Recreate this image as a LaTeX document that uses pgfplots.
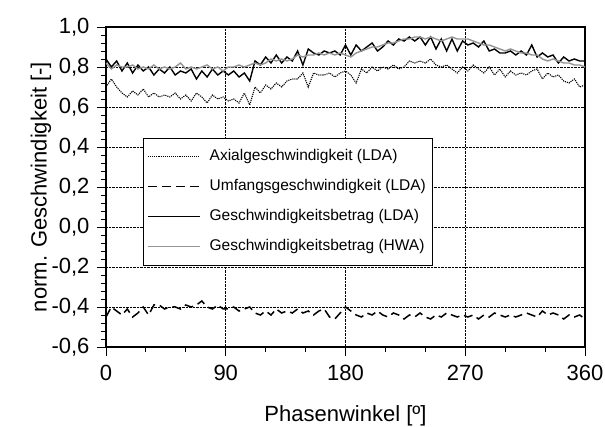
\documentclass[border=0pt]{standalone}
\usepackage{fontspec}
\setmainfont{Liberation Sans}
\usepackage{pgfplots}
\pgfplotsset{compat=1.18}
\usetikzlibrary{calc}

\pgfplotstableread{
x ax um lda hwa
0 0.70 -0.45 0.84 0.82
4 0.74 -0.40 0.80 0.79
8 0.70 -0.42 0.83 0.81
12 0.67 -0.44 0.78 0.80
16 0.65 -0.41 0.82 0.80
20 0.68 -0.45 0.77 0.81
24 0.66 -0.43 0.81 0.79
28 0.69 -0.40 0.78 0.80
32 0.65 -0.44 0.80 0.79
36 0.67 -0.39 0.76 0.81
40 0.65 -0.39 0.79 0.79
44 0.66 -0.41 0.77 0.80
48 0.65 -0.40 0.80 0.79
52 0.67 -0.40 0.76 0.80
56 0.64 -0.41 0.78 0.82
60 0.66 -0.39 0.77 0.79
64 0.63 -0.40 0.79 0.80
68 0.67 -0.39 0.74 0.79
72 0.65 -0.37 0.78 0.80
76 0.62 -0.40 0.75 0.81
80 0.66 -0.41 0.79 0.79
84 0.64 -0.39 0.76 0.80
88 0.65 -0.41 0.78 0.78
92 0.63 -0.41 0.76 0.80
96 0.64 -0.40 0.78 0.80
100 0.62 -0.42 0.75 0.81
104 0.67 -0.41 0.77 0.80
108 0.61 -0.40 0.73 0.81
112 0.70 -0.43 0.83 0.82
116 0.67 -0.44 0.81 0.81
120 0.71 -0.42 0.85 0.82
124 0.69 -0.44 0.82 0.84
128 0.72 -0.41 0.86 0.83
132 0.70 -0.43 0.82 0.84
136 0.73 -0.42 0.85 0.83
140 0.74 -0.43 0.83 0.84
144 0.74 -0.41 0.88 0.86
148 0.77 -0.43 0.81 0.85
152 0.70 -0.42 0.89 0.86
156 0.77 -0.44 0.87 0.86
160 0.76 -0.42 0.86 0.87
164 0.76 -0.41 0.88 0.86
168 0.77 -0.45 0.87 0.87
172 0.75 -0.46 0.88 0.86
176 0.77 -0.43 0.86 0.87
180 0.78 -0.40 0.91 0.86
184 0.76 -0.42 0.86 0.85
188 0.72 -0.44 0.91 0.87
192 0.79 -0.45 0.88 0.88
196 0.77 -0.43 0.90 0.89
200 0.80 -0.44 0.92 0.90
204 0.78 -0.42 0.88 0.90
208 0.80 -0.44 0.90 0.91
212 0.79 -0.45 0.93 0.92
216 0.81 -0.43 0.91 0.92
220 0.79 -0.44 0.94 0.93
224 0.80 -0.46 0.93 0.94
228 0.83 -0.44 0.95 0.94
232 0.82 -0.45 0.93 0.95
236 0.83 -0.43 0.95 0.95
240 0.82 -0.45 0.91 0.94
244 0.84 -0.46 0.95 0.95
248 0.81 -0.44 0.89 0.94
252 0.80 -0.45 0.94 0.93
256 0.81 -0.43 0.88 0.94
260 0.79 -0.44 0.94 0.95
264 0.77 -0.45 0.88 0.94
268 0.80 -0.44 0.93 0.94
272 0.78 -0.45 0.91 0.94
276 0.81 -0.44 0.92 0.93
280 0.79 -0.46 0.90 0.92
284 0.77 -0.44 0.93 0.91
288 0.80 -0.45 0.88 0.91
292 0.76 -0.43 0.89 0.90
296 0.79 -0.44 0.87 0.89
300 0.75 -0.45 0.87 0.88
304 0.78 -0.44 0.88 0.89
308 0.76 -0.45 0.86 0.88
312 0.77 -0.44 0.88 0.87
316 0.76 -0.43 0.86 0.87
320 0.78 -0.44 0.91 0.86
324 0.79 -0.45 0.85 0.86
328 0.74 -0.42 0.87 0.84
332 0.77 -0.44 0.85 0.83
336 0.75 -0.43 0.86 0.84
340 0.76 -0.44 0.82 0.83
344 0.73 -0.46 0.85 0.82
348 0.72 -0.44 0.83 0.82
352 0.74 -0.45 0.84 0.81
356 0.70 -0.44 0.83 0.81
360 0.71 -0.46 0.83 0.80
}\datatable

\begin{document}
\fontsize{22}{26}\selectfont
\begin{tikzpicture}
\begin{axis}[
  scale only axis, width=479pt, height=320pt,
  xmin=0, xmax=360, ymin=-0.6, ymax=1.0,
  xtick={0,90,180,270,360}, minor x tick num=2,
  ytick={-0.6,-0.4,-0.2,0,0.2,0.4,0.6,0.8,1.0}, minor y tick num=4,
  xtick pos=bottom, ytick pos=left,
  tick align=outside,
  major tick length=9pt, minor tick length=5pt,
  tick style={black, line width=0.9pt},
  axis line style={line width=1.2pt},
  grid=major, major grid style={densely dotted, black, line width=0.6pt},
  /pgf/number format/assume math mode=true,
  /pgf/number format/use comma, /pgf/number format/fixed,
  /pgf/number format/fixed zerofill, /pgf/number format/precision=1,
  xticklabel={\pgfmathprintnumber[fixed,precision=0]{\tick}},
  ticklabel style={font=\fontsize{22}{26}\selectfont},
  xticklabel style={yshift=-2pt},
  xlabel={Phasenwinkel [º]}, ylabel={norm. Geschwindigkeit [-]},
  label style={font=\fontsize{22}{26}\selectfont},
  xlabel style={at={(axis description cs:0.5,-0.216)}, anchor=center},
  ylabel style={at={(axis description cs:-0.136,0.5)}, anchor=center},
  legend style={at={(axis description cs:0.077,0.653)}, anchor=north west,
    draw=black, line width=0.6pt, fill=white, row sep=11.5pt,
    inner xsep=4pt, inner ysep=9pt, font=\fontsize{15.5}{18}\selectfont,
    cells={anchor=west}},
  legend image code/.code={\draw[#1] (0pt,0pt) -- (52pt,0pt); \path (59pt,0pt);},
]
\addplot[black, line width=1.1pt, densely dotted] table[x=x,y=ax] {\datatable};
\addlegendentry{Axialgeschwindigkeit (LDA)}
\addplot[black, line width=1.5pt, dash pattern=on 9pt off 5pt] table[x=x,y=um] {\datatable};
\addlegendentry{Umfangsgeschwindigkeit (LDA)}
\addplot[black, line width=1.4pt] table[x=x,y=lda] {\datatable};
\addlegendentry{Geschwindigkeitsbetrag (LDA)}
\addplot[black!42, line width=1.4pt] table[x=x,y=hwa] {\datatable};
\addlegendentry{Geschwindigkeitsbetrag (HWA)}
\end{axis}
\pgfresetboundingbox
\path ($(current axis.south west)+(-106pt,-80pt)$) rectangle ($(current axis.north east)+(20pt,27pt)$);
\end{tikzpicture}
\end{document}
